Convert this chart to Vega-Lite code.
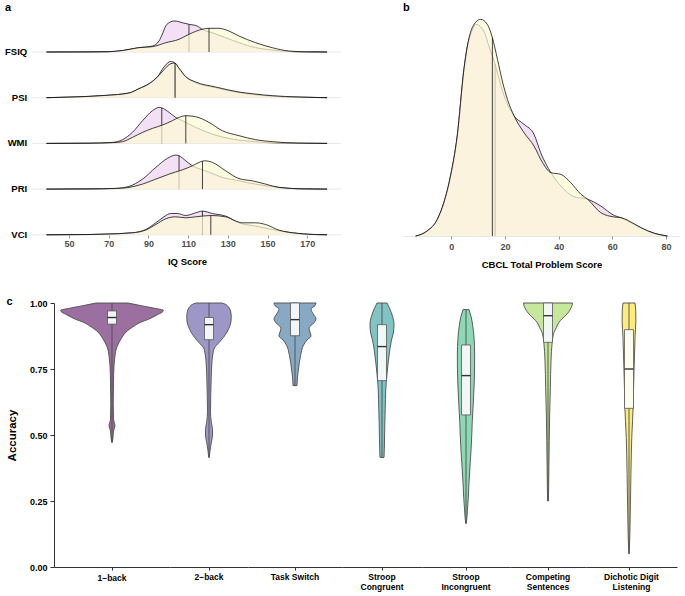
{
"$schema": "https://vega.github.io/schema/vega-lite/v6.json",
"padding": {"left": 4, "top": 2, "right": 0, "bottom": 0},
"config": {"font": "Liberation Sans", "view": {"stroke": null}},
"spacing": 27,
"vconcat": [
{
"spacing": 61,
"hconcat": [
{
"title": {"text": "a", "anchor": "start", "fontSize": 11, "fontWeight": "bold", "offset": 1, "color": "#000"},
"data": {"values": [
{"i":"FSIQ","g":"p","k":"c","v":38.6,"d":0},{"i":"FSIQ","g":"p","k":"c","v":60,"d":0.1},{"i":"FSIQ","g":"p","k":"c","v":70,"d":0.3},{"i":"FSIQ","g":"p","k":"c","v":77,"d":1.5},{"i":"FSIQ","g":"p","k":"c","v":85,"d":4.3},{"i":"FSIQ","g":"p","k":"c","v":92,"d":6},{"i":"FSIQ","g":"p","k":"c","v":95.3,"d":11},{"i":"FSIQ","g":"p","k":"c","v":97,"d":18},{"i":"FSIQ","g":"p","k":"c","v":98.7,"d":26},{"i":"FSIQ","g":"p","k":"c","v":101,"d":30},{"i":"FSIQ","g":"p","k":"c","v":102.9,"d":31},{"i":"FSIQ","g":"p","k":"c","v":105,"d":30.5},{"i":"FSIQ","g":"p","k":"c","v":107,"d":29.3},{"i":"FSIQ","g":"p","k":"c","v":110.4,"d":27.7},{"i":"FSIQ","g":"p","k":"c","v":114.6,"d":26},{"i":"FSIQ","g":"p","k":"c","v":117,"d":22.7},{"i":"FSIQ","g":"p","k":"c","v":122,"d":19.3},{"i":"FSIQ","g":"p","k":"c","v":128.9,"d":14.3},{"i":"FSIQ","g":"p","k":"c","v":135.6,"d":9.3},{"i":"FSIQ","g":"p","k":"c","v":144,"d":4.3},{"i":"FSIQ","g":"p","k":"c","v":152.4,"d":2},{"i":"FSIQ","g":"p","k":"c","v":160.8,"d":0.5},{"i":"FSIQ","g":"p","k":"c","v":170,"d":0.1},{"i":"FSIQ","g":"p","k":"c","v":180,"d":0},
{"i":"FSIQ","g":"y","k":"c","v":38.6,"d":0},{"i":"FSIQ","g":"y","k":"c","v":60,"d":0.1},{"i":"FSIQ","g":"y","k":"c","v":70,"d":0.3},{"i":"FSIQ","g":"y","k":"c","v":77,"d":1.5},{"i":"FSIQ","g":"y","k":"c","v":85,"d":4.3},{"i":"FSIQ","g":"y","k":"c","v":92,"d":5.3},{"i":"FSIQ","g":"y","k":"c","v":98.7,"d":9.3},{"i":"FSIQ","g":"y","k":"c","v":105.4,"d":12.7},{"i":"FSIQ","g":"y","k":"c","v":110.4,"d":17.7},{"i":"FSIQ","g":"y","k":"c","v":117,"d":22.7},{"i":"FSIQ","g":"y","k":"c","v":120.5,"d":23.7},{"i":"FSIQ","g":"y","k":"c","v":125.5,"d":23.7},{"i":"FSIQ","g":"y","k":"c","v":130.5,"d":21},{"i":"FSIQ","g":"y","k":"c","v":135.6,"d":16},{"i":"FSIQ","g":"y","k":"c","v":144,"d":9.3},{"i":"FSIQ","g":"y","k":"c","v":152.4,"d":4.3},{"i":"FSIQ","g":"y","k":"c","v":160.8,"d":1},{"i":"FSIQ","g":"y","k":"c","v":169.2,"d":0.2},{"i":"FSIQ","g":"y","k":"c","v":180,"d":0},
{"i":"FSIQ","g":"p","k":"m","v":110.4,"d":27.7},{"i":"FSIQ","g":"y","k":"m","v":120.5,"d":23.7},
{"i":"PSI","g":"p","k":"c","v":38.6,"d":0},{"i":"PSI","g":"p","k":"c","v":51.5,"d":0.7},{"i":"PSI","g":"p","k":"c","v":68.5,"d":2.3},{"i":"PSI","g":"p","k":"c","v":80.2,"d":4.7},{"i":"PSI","g":"p","k":"c","v":85.2,"d":9},{"i":"PSI","g":"p","k":"c","v":90.3,"d":14},{"i":"PSI","g":"p","k":"c","v":94.5,"d":20.7},{"i":"PSI","g":"p","k":"c","v":97.8,"d":30.7},{"i":"PSI","g":"p","k":"c","v":101.2,"d":36.3},{"i":"PSI","g":"p","k":"c","v":103.3,"d":34.5},{"i":"PSI","g":"p","k":"c","v":105.4,"d":29},{"i":"PSI","g":"p","k":"c","v":108.8,"d":20.7},{"i":"PSI","g":"p","k":"c","v":113.8,"d":15},{"i":"PSI","g":"p","k":"c","v":123.9,"d":10},{"i":"PSI","g":"p","k":"c","v":135.6,"d":5},{"i":"PSI","g":"p","k":"c","v":142.3,"d":3.3},{"i":"PSI","g":"p","k":"c","v":152.4,"d":1.5},{"i":"PSI","g":"p","k":"c","v":165.8,"d":0.5},{"i":"PSI","g":"p","k":"c","v":180,"d":0},
{"i":"PSI","g":"y","k":"c","v":38.6,"d":0},{"i":"PSI","g":"y","k":"c","v":51.5,"d":0.7},{"i":"PSI","g":"y","k":"c","v":68.5,"d":2.3},{"i":"PSI","g":"y","k":"c","v":80.2,"d":4.7},{"i":"PSI","g":"y","k":"c","v":85.2,"d":9},{"i":"PSI","g":"y","k":"c","v":90.3,"d":14},{"i":"PSI","g":"y","k":"c","v":94.5,"d":20.7},{"i":"PSI","g":"y","k":"c","v":97.8,"d":28},{"i":"PSI","g":"y","k":"c","v":101.2,"d":34},{"i":"PSI","g":"y","k":"c","v":103.3,"d":34.7},{"i":"PSI","g":"y","k":"c","v":105.4,"d":29.5},{"i":"PSI","g":"y","k":"c","v":108.8,"d":21},{"i":"PSI","g":"y","k":"c","v":113.8,"d":15.7},{"i":"PSI","g":"y","k":"c","v":123.9,"d":10.7},{"i":"PSI","g":"y","k":"c","v":135.6,"d":5.7},{"i":"PSI","g":"y","k":"c","v":142.3,"d":4},{"i":"PSI","g":"y","k":"c","v":152.4,"d":2},{"i":"PSI","g":"y","k":"c","v":165.8,"d":0.7},{"i":"PSI","g":"y","k":"c","v":180,"d":0},
{"i":"PSI","g":"p","k":"m","v":103.4,"d":34.4},{"i":"PSI","g":"y","k":"m","v":103.4,"d":34.7},
{"i":"WMI","g":"p","k":"c","v":38.6,"d":0},{"i":"WMI","g":"p","k":"c","v":60,"d":0.2},{"i":"WMI","g":"p","k":"c","v":71.8,"d":1},{"i":"WMI","g":"p","k":"c","v":76.9,"d":3.7},{"i":"WMI","g":"p","k":"c","v":81.9,"d":11},{"i":"WMI","g":"p","k":"c","v":87,"d":22.7},{"i":"WMI","g":"p","k":"c","v":92,"d":32.7},{"i":"WMI","g":"p","k":"c","v":95.4,"d":36},{"i":"WMI","g":"p","k":"c","v":96.7,"d":35.5},{"i":"WMI","g":"p","k":"c","v":100.4,"d":31},{"i":"WMI","g":"p","k":"c","v":103.7,"d":26},{"i":"WMI","g":"p","k":"c","v":107.1,"d":22.7},{"i":"WMI","g":"p","k":"c","v":113.8,"d":16},{"i":"WMI","g":"p","k":"c","v":122.2,"d":9.3},{"i":"WMI","g":"p","k":"c","v":132.2,"d":4.3},{"i":"WMI","g":"p","k":"c","v":144,"d":1.7},{"i":"WMI","g":"p","k":"c","v":155.7,"d":0.3},{"i":"WMI","g":"p","k":"c","v":180,"d":0},
{"i":"WMI","g":"y","k":"c","v":38.6,"d":0},{"i":"WMI","g":"y","k":"c","v":60,"d":0.2},{"i":"WMI","g":"y","k":"c","v":71.8,"d":0.7},{"i":"WMI","g":"y","k":"c","v":76.9,"d":1.7},{"i":"WMI","g":"y","k":"c","v":81.9,"d":6},{"i":"WMI","g":"y","k":"c","v":87,"d":11},{"i":"WMI","g":"y","k":"c","v":92,"d":15},{"i":"WMI","g":"y","k":"c","v":97,"d":18.3},{"i":"WMI","g":"y","k":"c","v":102,"d":22.7},{"i":"WMI","g":"y","k":"c","v":105.4,"d":26},{"i":"WMI","g":"y","k":"c","v":108.8,"d":27.7},{"i":"WMI","g":"y","k":"c","v":113.8,"d":26.7},{"i":"WMI","g":"y","k":"c","v":120.5,"d":21},{"i":"WMI","g":"y","k":"c","v":127.2,"d":12.7},{"i":"WMI","g":"y","k":"c","v":135.6,"d":7.7},{"i":"WMI","g":"y","k":"c","v":144,"d":3.7},{"i":"WMI","g":"y","k":"c","v":152.4,"d":1.7},{"i":"WMI","g":"y","k":"c","v":165.8,"d":0.3},{"i":"WMI","g":"y","k":"c","v":180,"d":0},
{"i":"WMI","g":"p","k":"m","v":96.7,"d":35.5},{"i":"WMI","g":"y","k":"m","v":108.8,"d":27.7},
{"i":"PRI","g":"p","k":"c","v":38.6,"d":0},{"i":"PRI","g":"p","k":"c","v":60,"d":0.2},{"i":"PRI","g":"p","k":"c","v":73.5,"d":0.7},{"i":"PRI","g":"p","k":"c","v":80.2,"d":2.7},{"i":"PRI","g":"p","k":"c","v":87,"d":10},{"i":"PRI","g":"p","k":"c","v":93.7,"d":21.7},{"i":"PRI","g":"p","k":"c","v":99.5,"d":30.7},{"i":"PRI","g":"p","k":"c","v":103.7,"d":34},{"i":"PRI","g":"p","k":"c","v":105.4,"d":33.3},{"i":"PRI","g":"p","k":"c","v":108.8,"d":28.3},{"i":"PRI","g":"p","k":"c","v":112.1,"d":23.3},{"i":"PRI","g":"p","k":"c","v":118.8,"d":18.3},{"i":"PRI","g":"p","k":"c","v":127.2,"d":11.7},{"i":"PRI","g":"p","k":"c","v":135.6,"d":8.3},{"i":"PRI","g":"p","k":"c","v":144,"d":5},{"i":"PRI","g":"p","k":"c","v":155.7,"d":1.7},{"i":"PRI","g":"p","k":"c","v":165,"d":0.4},{"i":"PRI","g":"p","k":"c","v":180,"d":0},
{"i":"PRI","g":"y","k":"c","v":38.6,"d":0},{"i":"PRI","g":"y","k":"c","v":60,"d":0.2},{"i":"PRI","g":"y","k":"c","v":73.5,"d":0.6},{"i":"PRI","g":"y","k":"c","v":80.2,"d":1.7},{"i":"PRI","g":"y","k":"c","v":87,"d":5},{"i":"PRI","g":"y","k":"c","v":93.7,"d":10},{"i":"PRI","g":"y","k":"c","v":100.4,"d":15},{"i":"PRI","g":"y","k":"c","v":107.1,"d":19.3},{"i":"PRI","g":"y","k":"c","v":112.1,"d":23.3},{"i":"PRI","g":"y","k":"c","v":115.5,"d":26.7},{"i":"PRI","g":"y","k":"c","v":118.3,"d":28.3},{"i":"PRI","g":"y","k":"c","v":122.2,"d":26.7},{"i":"PRI","g":"y","k":"c","v":128.9,"d":18.3},{"i":"PRI","g":"y","k":"c","v":135.6,"d":10.5},{"i":"PRI","g":"y","k":"c","v":142.3,"d":8.3},{"i":"PRI","g":"y","k":"c","v":149,"d":5},{"i":"PRI","g":"y","k":"c","v":155.7,"d":1.7},{"i":"PRI","g":"y","k":"c","v":165.8,"d":0.3},{"i":"PRI","g":"y","k":"c","v":180,"d":0},
{"i":"PRI","g":"p","k":"m","v":105.4,"d":33.3},{"i":"PRI","g":"y","k":"m","v":117.2,"d":28.1},
{"i":"VCI","g":"p","k":"c","v":38.6,"d":0},{"i":"VCI","g":"p","k":"c","v":60,"d":0.3},{"i":"VCI","g":"p","k":"c","v":68.5,"d":0.7},{"i":"VCI","g":"p","k":"c","v":81.9,"d":2},{"i":"VCI","g":"p","k":"c","v":88.6,"d":5.3},{"i":"VCI","g":"p","k":"c","v":93.7,"d":12},{"i":"VCI","g":"p","k":"c","v":97.8,"d":18},{"i":"VCI","g":"p","k":"c","v":101.2,"d":21.3},{"i":"VCI","g":"p","k":"c","v":104.6,"d":21.3},{"i":"VCI","g":"p","k":"c","v":108.8,"d":19.3},{"i":"VCI","g":"p","k":"c","v":113.8,"d":22},{"i":"VCI","g":"p","k":"c","v":117.2,"d":23.7},{"i":"VCI","g":"p","k":"c","v":122.2,"d":21.3},{"i":"VCI","g":"p","k":"c","v":128.9,"d":18.7},{"i":"VCI","g":"p","k":"c","v":135.6,"d":12},{"i":"VCI","g":"p","k":"c","v":144,"d":8.7},{"i":"VCI","g":"p","k":"c","v":152.4,"d":5.3},{"i":"VCI","g":"p","k":"c","v":162.5,"d":2},{"i":"VCI","g":"p","k":"c","v":172.5,"d":0.3},{"i":"VCI","g":"p","k":"c","v":180,"d":0},
{"i":"VCI","g":"y","k":"c","v":38.6,"d":0},{"i":"VCI","g":"y","k":"c","v":60,"d":0.3},{"i":"VCI","g":"y","k":"c","v":68.5,"d":0.7},{"i":"VCI","g":"y","k":"c","v":81.9,"d":2},{"i":"VCI","g":"y","k":"c","v":88.6,"d":4.7},{"i":"VCI","g":"y","k":"c","v":93.7,"d":10.3},{"i":"VCI","g":"y","k":"c","v":98.7,"d":16},{"i":"VCI","g":"y","k":"c","v":103.7,"d":18},{"i":"VCI","g":"y","k":"c","v":108.8,"d":17},{"i":"VCI","g":"y","k":"c","v":113.8,"d":18},{"i":"VCI","g":"y","k":"c","v":121.4,"d":19.3},{"i":"VCI","g":"y","k":"c","v":128.9,"d":18},{"i":"VCI","g":"y","k":"c","v":134,"d":13.7},{"i":"VCI","g":"y","k":"c","v":137.3,"d":12},{"i":"VCI","g":"y","k":"c","v":144,"d":12},{"i":"VCI","g":"y","k":"c","v":149,"d":10.3},{"i":"VCI","g":"y","k":"c","v":155.7,"d":4.7},{"i":"VCI","g":"y","k":"c","v":165.8,"d":1.3},{"i":"VCI","g":"y","k":"c","v":174.2,"d":0.3},{"i":"VCI","g":"y","k":"c","v":180,"d":0},
{"i":"VCI","g":"p","k":"m","v":117.2,"d":23.7},{"i":"VCI","g":"y","k":"m","v":121.4,"d":19.3}
]},
"facet": {"row": {"field": "i", "type": "nominal", "sort": ["FSIQ","PSI","WMI","PRI","VCI"], "title": null, "header": {"labels": false, "title": null}}},
"spacing": {"row": 7.7},
"bounds": "flush",
"spec": {
  "width": 287, "height": 38,
  "encoding": {
    "y": {"field": "d", "type": "quantitative", "stack": null, "title": null, "scale": {"domain": [0, 38], "nice": false}, "axis": null}
  },
  "layer": [
    {"transform": [{"filter": "datum.k == 'm' && datum.g == 'p'"}], "mark": {"type": "rule", "color": "#e6e6e6", "strokeWidth": 1},
     "encoding": {"x": {"datum": 31.4, "type": "quantitative", "title": "IQ Score"}, "x2": {"datum": 187}, "y": {"datum": 0, "type": "quantitative", "axis": null}}},
    {"transform": [{"filter": "datum.k == 'm' && datum.g == 'p'"}], "mark": {"type": "text", "align": "right", "baseline": "middle", "dx": -5, "fontWeight": "bold", "fontSize": 9.5, "color": "#000"},
     "encoding": {"text": {"field": "i"}, "x": {"datum": 31.4, "type": "quantitative", "title": "IQ Score"}, "y": {"datum": 0, "type": "quantitative", "axis": null}}},
    {"transform": [{"filter": "datum.k == 'c' && datum.g == 'p'"}], "mark": {"type": "area", "interpolate": "monotone", "fill": "#E7C1EB", "fillOpacity": 0.5},
     "encoding": {"x": {"field": "v", "type": "quantitative", "title": "IQ Score", "scale": {"domain": [42.4, 187], "nice": false, "zero": false},
      "axis": {"values": [50,70,90,110,130,150,170], "grid": false, "domain": false, "tickColor": "#999", "tickSize": 3, "labelColor": "#4d4d4d", "labelFontWeight": "bold", "labelFontSize": 9, "labelPadding": 1, "titleFontWeight": "bold", "titleFontSize": 9.5, "titlePadding": 8, "titleColor": "#000", "titleX": 133}}}},
    {"transform": [{"filter": "datum.k == 'c' && datum.g == 'p'"}], "mark": {"type": "line", "interpolate": "monotone", "color": "#111", "strokeWidth": 0.8}, "encoding": {"x": {"field": "v", "type": "quantitative", "title": "IQ Score"}}},
    {"transform": [{"filter": "datum.k == 'm' && datum.g == 'p'"}], "mark": {"type": "rule", "color": "#111", "strokeWidth": 0.8}, "encoding": {"x": {"field": "v", "type": "quantitative", "title": "IQ Score"}, "y2": {"datum": 0}}},
    {"transform": [{"filter": "datum.k == 'c' && datum.g == 'y'"}], "mark": {"type": "area", "interpolate": "monotone", "fill": "#FEFBD3", "fillOpacity": 0.7}, "encoding": {"x": {"field": "v", "type": "quantitative", "title": "IQ Score"}}},
    {"transform": [{"filter": "datum.k == 'c' && datum.g == 'y'"}], "mark": {"type": "line", "interpolate": "monotone", "color": "#111", "strokeWidth": 0.8}, "encoding": {"x": {"field": "v", "type": "quantitative", "title": "IQ Score"}}},
    {"transform": [{"filter": "datum.k == 'm' && datum.g == 'y'"}], "mark": {"type": "rule", "color": "#111", "strokeWidth": 0.8}, "encoding": {"x": {"field": "v", "type": "quantitative", "title": "IQ Score"}, "y2": {"datum": 0}}}
  ]
}
},
{
"title": {"text": "b", "anchor": "start", "fontSize": 11, "fontWeight": "bold", "offset": 1, "color": "#000"},
"width": 277, "height": 222,
"data": {"values": [
{"g":"p","k":"c","v":-13.3,"d":0},{"g":"p","k":"c","v":-9,"d":5},{"g":"p","k":"c","v":-5.2,"d":16.7},{"g":"p","k":"c","v":-2.8,"d":33.3},{"g":"p","k":"c","v":-0.3,"d":60},{"g":"p","k":"c","v":2.2,"d":100},{"g":"p","k":"c","v":4.7,"d":166.7},{"g":"p","k":"c","v":6,"d":190},{"g":"p","k":"c","v":7.8,"d":206},{"g":"p","k":"c","v":9.1,"d":211.7},{"g":"p","k":"c","v":12.1,"d":205},{"g":"p","k":"c","v":14,"d":190},{"g":"p","k":"c","v":16.3,"d":172},{"g":"p","k":"c","v":17.2,"d":163},{"g":"p","k":"c","v":19.7,"d":140},{"g":"p","k":"c","v":23.4,"d":120},{"g":"p","k":"c","v":27.1,"d":111.7},{"g":"p","k":"c","v":30.8,"d":101.7},{"g":"p","k":"c","v":33.3,"d":83.3},{"g":"p","k":"c","v":37.1,"d":63.3},{"g":"p","k":"c","v":40.8,"d":50},{"g":"p","k":"c","v":45.7,"d":39.3},{"g":"p","k":"c","v":50.8,"d":36.7},{"g":"p","k":"c","v":55.7,"d":30},{"g":"p","k":"c","v":60.7,"d":20.5},{"g":"p","k":"c","v":63.2,"d":18.3},{"g":"p","k":"c","v":65.7,"d":15},{"g":"p","k":"c","v":70.7,"d":8},{"g":"p","k":"c","v":75.6,"d":2.7},{"g":"p","k":"c","v":80.5,"d":0},
{"g":"y","k":"c","v":-13.3,"d":0},{"g":"y","k":"c","v":-9,"d":5},{"g":"y","k":"c","v":-5.2,"d":16.7},{"g":"y","k":"c","v":-2.8,"d":33.3},{"g":"y","k":"c","v":-0.3,"d":60},{"g":"y","k":"c","v":2.2,"d":100},{"g":"y","k":"c","v":4.7,"d":166.7},{"g":"y","k":"c","v":6,"d":190},{"g":"y","k":"c","v":7.8,"d":208.3},{"g":"y","k":"c","v":10.9,"d":216.7},{"g":"y","k":"c","v":13.4,"d":211.7},{"g":"y","k":"c","v":15.3,"d":198.3},{"g":"y","k":"c","v":17.2,"d":176.7},{"g":"y","k":"c","v":19,"d":155},{"g":"y","k":"c","v":20.9,"d":136.7},{"g":"y","k":"c","v":23.4,"d":120},{"g":"y","k":"c","v":27.1,"d":103.3},{"g":"y","k":"c","v":30.8,"d":90},{"g":"y","k":"c","v":34,"d":73.3},{"g":"y","k":"c","v":37.1,"d":63.3},{"g":"y","k":"c","v":40.8,"d":61.7},{"g":"y","k":"c","v":44.5,"d":53.3},{"g":"y","k":"c","v":48.3,"d":41.7},{"g":"y","k":"c","v":50.8,"d":36.7},{"g":"y","k":"c","v":55.7,"d":23.3},{"g":"y","k":"c","v":60.7,"d":19},{"g":"y","k":"c","v":63.2,"d":18.3},{"g":"y","k":"c","v":65.7,"d":15.7},{"g":"y","k":"c","v":70.7,"d":8.3},{"g":"y","k":"c","v":75.6,"d":2.7},{"g":"y","k":"c","v":80.5,"d":0},
{"g":"p","k":"m","v":16.3,"d":172},{"g":"y","k":"m","v":15.3,"d":198.3}
]},
"encoding": {
  "x": {"field": "v", "type": "quantitative", "title": "CBCL Total Problem Score", "scale": {"domain": [-18, 85.2], "nice": false, "zero": false},
    "axis": {"values": [0,20,40,60,80], "grid": false, "domain": false, "tickColor": "#999", "tickSize": 3, "labelColor": "#4d4d4d", "labelFontWeight": "bold", "labelFontSize": 9, "labelPadding": 3, "titleFontWeight": "bold", "titleFontSize": 9.5, "titlePadding": 8, "titleColor": "#000"}},
  "y": {"field": "d", "type": "quantitative", "stack": null, "title": null, "scale": {"domain": [0, 222], "nice": false},
    "axis": {"values": [0], "grid": true, "gridColor": "#e6e6e6", "labels": false, "ticks": false, "domain": false, "title": null, "minExtent": 0}}
},
"layer": [
  {"transform": [{"filter": "datum.k == 'c' && datum.g == 'p'"}], "mark": {"type": "area", "interpolate": "monotone", "fill": "#E7C1EB", "fillOpacity": 0.5}},
  {"transform": [{"filter": "datum.k == 'c' && datum.g == 'p'"}], "mark": {"type": "line", "interpolate": "monotone", "color": "#111", "strokeWidth": 0.8}},
  {"transform": [{"filter": "datum.k == 'm' && datum.g == 'p'"}], "mark": {"type": "rule", "color": "#111", "strokeWidth": 0.8}, "encoding": {"y2": {"datum": 0}}},
  {"transform": [{"filter": "datum.k == 'c' && datum.g == 'y'"}], "mark": {"type": "area", "interpolate": "monotone", "fill": "#FEFBD3", "fillOpacity": 0.7}},
  {"transform": [{"filter": "datum.k == 'c' && datum.g == 'y'"}], "mark": {"type": "line", "interpolate": "monotone", "color": "#111", "strokeWidth": 0.8}},
  {"transform": [{"filter": "datum.k == 'm' && datum.g == 'y'"}], "mark": {"type": "rule", "color": "#111", "strokeWidth": 0.8}, "encoding": {"y2": {"datum": 0}}}
]
}
]
},
{
"title": {"text": "c", "anchor": "start", "fontSize": 11, "fontWeight": "bold", "offset": -8, "color": "#000"},
"spacing": 0,
"data": {"values": [
{"t":"1−back","k":"v","acc":1.0,"w":32},{"t":"1−back","k":"v","acc":0.99,"w":58},{"t":"1−back","k":"v","acc":0.98,"w":85},{"t":"1−back","k":"v","acc":0.972,"w":103},{"t":"1−back","k":"v","acc":0.965,"w":100},{"t":"1−back","k":"v","acc":0.955,"w":90},{"t":"1−back","k":"v","acc":0.94,"w":75},{"t":"1−back","k":"v","acc":0.925,"w":55},{"t":"1−back","k":"v","acc":0.91,"w":42},{"t":"1−back","k":"v","acc":0.89,"w":28},{"t":"1−back","k":"v","acc":0.87,"w":20},{"t":"1−back","k":"v","acc":0.85,"w":14},{"t":"1−back","k":"v","acc":0.83,"w":9},{"t":"1−back","k":"v","acc":0.8,"w":6},{"t":"1−back","k":"v","acc":0.76,"w":4},{"t":"1−back","k":"v","acc":0.7,"w":3},{"t":"1−back","k":"v","acc":0.62,"w":2.5},{"t":"1−back","k":"v","acc":0.56,"w":3},{"t":"1−back","k":"v","acc":0.535,"w":6},{"t":"1−back","k":"v","acc":0.515,"w":3},{"t":"1−back","k":"v","acc":0.49,"w":2},{"t":"1−back","k":"v","acc":0.472,"w":0.5},
{"t":"2−back","k":"v","acc":1.0,"w":26},{"t":"2−back","k":"v","acc":0.995,"w":33},{"t":"2−back","k":"v","acc":0.985,"w":39},{"t":"2−back","k":"v","acc":0.97,"w":43},{"t":"2−back","k":"v","acc":0.95,"w":44.5},{"t":"2−back","k":"v","acc":0.93,"w":44},{"t":"2−back","k":"v","acc":0.91,"w":41},{"t":"2−back","k":"v","acc":0.89,"w":36},{"t":"2−back","k":"v","acc":0.87,"w":29},{"t":"2−back","k":"v","acc":0.85,"w":20},{"t":"2−back","k":"v","acc":0.83,"w":11},{"t":"2−back","k":"v","acc":0.81,"w":8},{"t":"2−back","k":"v","acc":0.78,"w":6},{"t":"2−back","k":"v","acc":0.72,"w":4.5},{"t":"2−back","k":"v","acc":0.65,"w":3.5},{"t":"2−back","k":"v","acc":0.59,"w":3},{"t":"2−back","k":"v","acc":0.55,"w":4.5},{"t":"2−back","k":"v","acc":0.52,"w":7},{"t":"2−back","k":"v","acc":0.5,"w":7},{"t":"2−back","k":"v","acc":0.47,"w":4.5},{"t":"2−back","k":"v","acc":0.44,"w":2},{"t":"2−back","k":"v","acc":0.415,"w":0.5},
{"t":"Task Switch","k":"v","acc":1.0,"w":42},{"t":"Task Switch","k":"v","acc":0.99,"w":40},{"t":"Task Switch","k":"v","acc":0.977,"w":32},{"t":"Task Switch","k":"v","acc":0.96,"w":36},{"t":"Task Switch","k":"v","acc":0.94,"w":42},{"t":"Task Switch","k":"v","acc":0.925,"w":38},{"t":"Task Switch","k":"v","acc":0.905,"w":28},{"t":"Task Switch","k":"v","acc":0.89,"w":30},{"t":"Task Switch","k":"v","acc":0.875,"w":32},{"t":"Task Switch","k":"v","acc":0.86,"w":24},{"t":"Task Switch","k":"v","acc":0.84,"w":17},{"t":"Task Switch","k":"v","acc":0.8,"w":11},{"t":"Task Switch","k":"v","acc":0.75,"w":7},{"t":"Task Switch","k":"v","acc":0.72,"w":5},{"t":"Task Switch","k":"v","acc":0.687,"w":4},
{"t":"Stroop Congruent","k":"v","acc":1.0,"w":10},{"t":"Stroop Congruent","k":"v","acc":0.98,"w":15},{"t":"Stroop Congruent","k":"v","acc":0.95,"w":21},{"t":"Stroop Congruent","k":"v","acc":0.92,"w":24},{"t":"Stroop Congruent","k":"v","acc":0.89,"w":23},{"t":"Stroop Congruent","k":"v","acc":0.86,"w":19},{"t":"Stroop Congruent","k":"v","acc":0.8,"w":14},{"t":"Stroop Congruent","k":"v","acc":0.73,"w":10},{"t":"Stroop Congruent","k":"v","acc":0.67,"w":7.5},{"t":"Stroop Congruent","k":"v","acc":0.6,"w":6.5},{"t":"Stroop Congruent","k":"v","acc":0.55,"w":5.7},{"t":"Stroop Congruent","k":"v","acc":0.45,"w":4.7},{"t":"Stroop Congruent","k":"v","acc":0.415,"w":4},
{"t":"Stroop Incongruent","k":"v","acc":0.975,"w":6},{"t":"Stroop Incongruent","k":"v","acc":0.95,"w":10},{"t":"Stroop Incongruent","k":"v","acc":0.92,"w":13},{"t":"Stroop Incongruent","k":"v","acc":0.87,"w":16},{"t":"Stroop Incongruent","k":"v","acc":0.8,"w":17.3},{"t":"Stroop Incongruent","k":"v","acc":0.7,"w":16.5},{"t":"Stroop Incongruent","k":"v","acc":0.62,"w":14.5},{"t":"Stroop Incongruent","k":"v","acc":0.55,"w":12.5},{"t":"Stroop Incongruent","k":"v","acc":0.5,"w":11.5},{"t":"Stroop Incongruent","k":"v","acc":0.44,"w":10},{"t":"Stroop Incongruent","k":"v","acc":0.38,"w":8},{"t":"Stroop Incongruent","k":"v","acc":0.32,"w":6},{"t":"Stroop Incongruent","k":"v","acc":0.26,"w":4.5},{"t":"Stroop Incongruent","k":"v","acc":0.22,"w":3},{"t":"Stroop Incongruent","k":"v","acc":0.19,"w":2},{"t":"Stroop Incongruent","k":"v","acc":0.165,"w":0.5},
{"t":"Competing Sentences","k":"v","acc":1.0,"w":49},{"t":"Competing Sentences","k":"v","acc":0.99,"w":48},{"t":"Competing Sentences","k":"v","acc":0.977,"w":45},{"t":"Competing Sentences","k":"v","acc":0.958,"w":38},{"t":"Competing Sentences","k":"v","acc":0.94,"w":28},{"t":"Competing Sentences","k":"v","acc":0.927,"w":22},{"t":"Competing Sentences","k":"v","acc":0.9,"w":15},{"t":"Competing Sentences","k":"v","acc":0.889,"w":12},{"t":"Competing Sentences","k":"v","acc":0.85,"w":8.3},{"t":"Competing Sentences","k":"v","acc":0.78,"w":6},{"t":"Competing Sentences","k":"v","acc":0.68,"w":4.7},{"t":"Competing Sentences","k":"v","acc":0.58,"w":3.3},{"t":"Competing Sentences","k":"v","acc":0.48,"w":2.5},{"t":"Competing Sentences","k":"v","acc":0.38,"w":1.8},{"t":"Competing Sentences","k":"v","acc":0.3,"w":1.3},{"t":"Competing Sentences","k":"v","acc":0.25,"w":0.8},
{"t":"Dichotic Digit Listening","k":"v","acc":1.0,"w":12},{"t":"Dichotic Digit Listening","k":"v","acc":0.97,"w":13.5},{"t":"Dichotic Digit Listening","k":"v","acc":0.93,"w":13.7},{"t":"Dichotic Digit Listening","k":"v","acc":0.87,"w":12},{"t":"Dichotic Digit Listening","k":"v","acc":0.8,"w":11},{"t":"Dichotic Digit Listening","k":"v","acc":0.74,"w":10},{"t":"Dichotic Digit Listening","k":"v","acc":0.67,"w":9},{"t":"Dichotic Digit Listening","k":"v","acc":0.61,"w":8.3},{"t":"Dichotic Digit Listening","k":"v","acc":0.55,"w":7},{"t":"Dichotic Digit Listening","k":"v","acc":0.49,"w":5.5},{"t":"Dichotic Digit Listening","k":"v","acc":0.42,"w":4.5},{"t":"Dichotic Digit Listening","k":"v","acc":0.35,"w":3.8},{"t":"Dichotic Digit Listening","k":"v","acc":0.28,"w":3.2},{"t":"Dichotic Digit Listening","k":"v","acc":0.2,"w":2.5},{"t":"Dichotic Digit Listening","k":"v","acc":0.13,"w":1.8},{"t":"Dichotic Digit Listening","k":"v","acc":0.08,"w":1},{"t":"Dichotic Digit Listening","k":"v","acc":0.05,"w":0.3},
{"t":"1−back","k":"b","lo":0.472,"q1":0.92,"med":0.945,"q3":0.97,"hi":1.0},
{"t":"2−back","k":"b","lo":0.415,"q1":0.861,"med":0.918,"q3":0.945,"hi":1.0},
{"t":"Task Switch","k":"b","lo":0.687,"q1":0.876,"med":0.937,"q3":1.0,"hi":1.0},
{"t":"Stroop Congruent","k":"b","lo":0.415,"q1":0.706,"med":0.835,"q3":0.918,"hi":1.0},
{"t":"Stroop Incongruent","k":"b","lo":0.165,"q1":0.576,"med":0.725,"q3":0.841,"hi":0.975},
{"t":"Competing Sentences","k":"b","lo":0.25,"q1":0.851,"med":0.952,"q3":1.0,"hi":1.0},
{"t":"Dichotic Digit Listening","k":"b","lo":0.05,"q1":0.601,"med":0.75,"q3":0.899,"hi":1.0}
]},
"hconcat": [
{"width": 116, "height": 264,
 "transform": [{"filter": "datum.t == '1−back'"}],
 "title": {"text": "1−back", "orient": "bottom", "fontSize": 8.5, "fontWeight": "bold", "offset": 2, "lineHeight": 10.5, "color": "#000"},
 "layer": [
  {"transform": [{"filter": "datum.k == 'v'"}],
   "mark": {"type": "area", "orient": "horizontal", "interpolate": "monotone", "stroke": "#4d4d4d", "strokeWidth": 0.9, "fill": "#9B6FA0"},
   "encoding": {
     "y": {"field": "acc", "type": "quantitative", "title": "Accuracy", "scale": {"domain": [0, 1], "nice": false},
       "axis": {"values": [0, 0.25, 0.5, 0.75, 1], "format": ".2f", "grid": false, "domainColor": "#333", "tickColor": "#333", "tickSize": 4, "labelPadding": 3, "labelFontWeight": "bold", "labelFontSize": 9, "labelColor": "#000", "titleFontWeight": "bold", "titleFontSize": 11.5, "titleColor": "#000", "titlePadding": 12}},
     "x": {"field": "w", "type": "quantitative", "stack": "center", "impute": null, "title": null, "scale": {"domain": [-6.5, 109.5], "nice": false, "zero": false},
       "axis": {"values": [51.5], "labels": false, "grid": false, "domainColor": "#333", "tickColor": "#333", "tickSize": 3, "title": null}}}},
  {"transform": [{"filter": "datum.k == 'b'"}], "mark": {"type": "rule", "color": "#4d4d4d", "strokeWidth": 0.9},
   "encoding": {"y": {"field": "lo", "type": "quantitative", "title": "Accuracy"}, "y2": {"field": "hi"}, "x": {"datum": 51.5, "type": "quantitative", "title": null}}},
  {"transform": [{"filter": "datum.k == 'b'"}], "mark": {"type": "rect", "fill": "#F3F6F6", "stroke": "#555", "strokeWidth": 0.8},
   "encoding": {"y": {"field": "q1", "type": "quantitative", "title": "Accuracy"}, "y2": {"field": "q3"}, "x": {"datum": 47, "type": "quantitative", "title": null}, "x2": {"datum": 56}}},
  {"transform": [{"filter": "datum.k == 'b'"}], "mark": {"type": "rule", "color": "#333", "strokeWidth": 1.4},
   "encoding": {"y": {"field": "med", "type": "quantitative", "title": "Accuracy"}, "x": {"datum": 47, "type": "quantitative", "title": null}, "x2": {"datum": 56}}}
 ]},
{"width": 78, "height": 264,
 "transform": [{"filter": "datum.t == '2−back'"}],
 "title": {"text": "2−back", "orient": "bottom", "fontSize": 8.5, "fontWeight": "bold", "offset": 2, "lineHeight": 10.5, "color": "#000"},
 "layer": [
  {"transform": [{"filter": "datum.k == 'v'"}],
   "mark": {"type": "area", "orient": "horizontal", "interpolate": "monotone", "stroke": "#4d4d4d", "strokeWidth": 0.9, "fill": "#9D97C8"},
   "encoding": {
     "y": {"field": "acc", "type": "quantitative", "title": null, "scale": {"domain": [0, 1], "nice": false}, "axis": null},
     "x": {"field": "w", "type": "quantitative", "stack": "center", "impute": null, "title": null, "scale": {"domain": [-16.75, 61.25], "nice": false, "zero": false},
       "axis": {"values": [22.25], "labels": false, "grid": false, "domainColor": "#333", "tickColor": "#333", "tickSize": 3, "title": null}}}},
  {"transform": [{"filter": "datum.k == 'b'"}], "mark": {"type": "rule", "color": "#4d4d4d", "strokeWidth": 0.9},
   "encoding": {"y": {"field": "lo", "type": "quantitative", "title": null}, "y2": {"field": "hi"}, "x": {"datum": 22.25, "type": "quantitative", "title": null}}},
  {"transform": [{"filter": "datum.k == 'b'"}], "mark": {"type": "rect", "fill": "#F3F6F6", "stroke": "#555", "strokeWidth": 0.8},
   "encoding": {"y": {"field": "q1", "type": "quantitative", "title": null}, "y2": {"field": "q3"}, "x": {"datum": 17.75, "type": "quantitative", "title": null}, "x2": {"datum": 26.75}}},
  {"transform": [{"filter": "datum.k == 'b'"}], "mark": {"type": "rule", "color": "#333", "strokeWidth": 1.4},
   "encoding": {"y": {"field": "med", "type": "quantitative", "title": null}, "x": {"datum": 17.75, "type": "quantitative", "title": null}, "x2": {"datum": 26.75}}}
 ]},
{"width": 94, "height": 264,
 "transform": [{"filter": "datum.t == 'Task Switch'"}],
 "title": {"text": "Task Switch", "orient": "bottom", "fontSize": 8.5, "fontWeight": "bold", "offset": 2, "lineHeight": 10.5, "color": "#000"},
 "layer": [
  {"transform": [{"filter": "datum.k == 'v'"}],
   "mark": {"type": "area", "orient": "horizontal", "interpolate": "monotone", "stroke": "#4d4d4d", "strokeWidth": 0.9, "fill": "#88A9C4"},
   "encoding": {
     "y": {"field": "acc", "type": "quantitative", "title": null, "scale": {"domain": [0, 1], "nice": false}, "axis": null},
     "x": {"field": "w", "type": "quantitative", "stack": "center", "impute": null, "title": null, "scale": {"domain": [-26, 68], "nice": false, "zero": false},
       "axis": {"values": [21], "labels": false, "grid": false, "domainColor": "#333", "tickColor": "#333", "tickSize": 3, "title": null}}}},
  {"transform": [{"filter": "datum.k == 'b'"}], "mark": {"type": "rule", "color": "#4d4d4d", "strokeWidth": 0.9},
   "encoding": {"y": {"field": "lo", "type": "quantitative", "title": null}, "y2": {"field": "hi"}, "x": {"datum": 21, "type": "quantitative", "title": null}}},
  {"transform": [{"filter": "datum.k == 'b'"}], "mark": {"type": "rect", "fill": "#F3F6F6", "stroke": "#555", "strokeWidth": 0.8},
   "encoding": {"y": {"field": "q1", "type": "quantitative", "title": null}, "y2": {"field": "q3"}, "x": {"datum": 16.5, "type": "quantitative", "title": null}, "x2": {"datum": 25.5}}},
  {"transform": [{"filter": "datum.k == 'b'"}], "mark": {"type": "rule", "color": "#333", "strokeWidth": 1.4},
   "encoding": {"y": {"field": "med", "type": "quantitative", "title": null}, "x": {"datum": 16.5, "type": "quantitative", "title": null}, "x2": {"datum": 25.5}}}
 ]},
{"width": 80, "height": 264,
 "transform": [{"filter": "datum.t == 'Stroop Congruent'"}],
 "title": {"text": ["Stroop", "Congruent"], "orient": "bottom", "fontSize": 8.5, "fontWeight": "bold", "offset": 2, "lineHeight": 10.5, "color": "#000"},
 "layer": [
  {"transform": [{"filter": "datum.k == 'v'"}],
   "mark": {"type": "area", "orient": "horizontal", "interpolate": "monotone", "stroke": "#4d4d4d", "strokeWidth": 0.9, "fill": "#80C4C4"},
   "encoding": {
     "y": {"field": "acc", "type": "quantitative", "title": null, "scale": {"domain": [0, 1], "nice": false}, "axis": null},
     "x": {"field": "w", "type": "quantitative", "stack": "center", "impute": null, "title": null, "scale": {"domain": [-28, 52], "nice": false, "zero": false},
       "axis": {"values": [12], "labels": false, "grid": false, "domainColor": "#333", "tickColor": "#333", "tickSize": 3, "title": null}}}},
  {"transform": [{"filter": "datum.k == 'b'"}], "mark": {"type": "rule", "color": "#4d4d4d", "strokeWidth": 0.9},
   "encoding": {"y": {"field": "lo", "type": "quantitative", "title": null}, "y2": {"field": "hi"}, "x": {"datum": 12, "type": "quantitative", "title": null}}},
  {"transform": [{"filter": "datum.k == 'b'"}], "mark": {"type": "rect", "fill": "#F3F6F6", "stroke": "#555", "strokeWidth": 0.8},
   "encoding": {"y": {"field": "q1", "type": "quantitative", "title": null}, "y2": {"field": "q3"}, "x": {"datum": 7.5, "type": "quantitative", "title": null}, "x2": {"datum": 16.5}}},
  {"transform": [{"filter": "datum.k == 'b'"}], "mark": {"type": "rule", "color": "#333", "strokeWidth": 1.4},
   "encoding": {"y": {"field": "med", "type": "quantitative", "title": null}, "x": {"datum": 7.5, "type": "quantitative", "title": null}, "x2": {"datum": 16.5}}}
 ]},
{"width": 88, "height": 264,
 "transform": [{"filter": "datum.t == 'Stroop Incongruent'"}],
 "title": {"text": ["Stroop", "Incongruent"], "orient": "bottom", "fontSize": 8.5, "fontWeight": "bold", "offset": 2, "lineHeight": 10.5, "color": "#000"},
 "layer": [
  {"transform": [{"filter": "datum.k == 'v'"}],
   "mark": {"type": "area", "orient": "horizontal", "interpolate": "monotone", "stroke": "#4d4d4d", "strokeWidth": 0.9, "fill": "#8ED9B5"},
   "encoding": {
     "y": {"field": "acc", "type": "quantitative", "title": null, "scale": {"domain": [0, 1], "nice": false}, "axis": null},
     "x": {"field": "w", "type": "quantitative", "stack": "center", "impute": null, "title": null, "scale": {"domain": [-35.35, 52.65], "nice": false, "zero": false},
       "axis": {"values": [8.65], "labels": false, "grid": false, "domainColor": "#333", "tickColor": "#333", "tickSize": 3, "title": null}}}},
  {"transform": [{"filter": "datum.k == 'b'"}], "mark": {"type": "rule", "color": "#4d4d4d", "strokeWidth": 0.9},
   "encoding": {"y": {"field": "lo", "type": "quantitative", "title": null}, "y2": {"field": "hi"}, "x": {"datum": 8.65, "type": "quantitative", "title": null}}},
  {"transform": [{"filter": "datum.k == 'b'"}], "mark": {"type": "rect", "fill": "#F3F6F6", "stroke": "#555", "strokeWidth": 0.8},
   "encoding": {"y": {"field": "q1", "type": "quantitative", "title": null}, "y2": {"field": "q3"}, "x": {"datum": 4.15, "type": "quantitative", "title": null}, "x2": {"datum": 13.15}}},
  {"transform": [{"filter": "datum.k == 'b'"}], "mark": {"type": "rule", "color": "#333", "strokeWidth": 1.4},
   "encoding": {"y": {"field": "med", "type": "quantitative", "title": null}, "x": {"datum": 4.15, "type": "quantitative", "title": null}, "x2": {"datum": 13.15}}}
 ]},
{"width": 76, "height": 264,
 "transform": [{"filter": "datum.t == 'Competing Sentences'"}],
 "title": {"text": ["Competing", "Sentences"], "orient": "bottom", "fontSize": 8.5, "fontWeight": "bold", "offset": 2, "lineHeight": 10.5, "color": "#000"},
 "layer": [
  {"transform": [{"filter": "datum.k == 'v'"}],
   "mark": {"type": "area", "orient": "horizontal", "interpolate": "monotone", "stroke": "#4d4d4d", "strokeWidth": 0.9, "fill": "#C5E89B"},
   "encoding": {
     "y": {"field": "acc", "type": "quantitative", "title": null, "scale": {"domain": [0, 1], "nice": false}, "axis": null},
     "x": {"field": "w", "type": "quantitative", "stack": "center", "impute": null, "title": null, "scale": {"domain": [-13.5, 62.5], "nice": false, "zero": false},
       "axis": {"values": [24.5], "labels": false, "grid": false, "domainColor": "#333", "tickColor": "#333", "tickSize": 3, "title": null}}}},
  {"transform": [{"filter": "datum.k == 'b'"}], "mark": {"type": "rule", "color": "#4d4d4d", "strokeWidth": 0.9},
   "encoding": {"y": {"field": "lo", "type": "quantitative", "title": null}, "y2": {"field": "hi"}, "x": {"datum": 24.5, "type": "quantitative", "title": null}}},
  {"transform": [{"filter": "datum.k == 'b'"}], "mark": {"type": "rect", "fill": "#F3F6F6", "stroke": "#555", "strokeWidth": 0.8},
   "encoding": {"y": {"field": "q1", "type": "quantitative", "title": null}, "y2": {"field": "q3"}, "x": {"datum": 20, "type": "quantitative", "title": null}, "x2": {"datum": 29}}},
  {"transform": [{"filter": "datum.k == 'b'"}], "mark": {"type": "rule", "color": "#333", "strokeWidth": 1.4},
   "encoding": {"y": {"field": "med", "type": "quantitative", "title": null}, "x": {"datum": 20, "type": "quantitative", "title": null}, "x2": {"datum": 29}}}
 ]},
{"width": 91, "height": 264,
 "transform": [{"filter": "datum.t == 'Dichotic Digit Listening'"}],
 "title": {"text": ["Dichotic Digit", "Listening"], "orient": "bottom", "fontSize": 8.5, "fontWeight": "bold", "offset": 2, "lineHeight": 10.5, "color": "#000"},
 "layer": [
  {"transform": [{"filter": "datum.k == 'v'"}],
   "mark": {"type": "area", "orient": "horizontal", "interpolate": "monotone", "stroke": "#4d4d4d", "strokeWidth": 0.9, "fill": "#FDEB7E"},
   "encoding": {
     "y": {"field": "acc", "type": "quantitative", "title": null, "scale": {"domain": [0, 1], "nice": false}, "axis": null},
     "x": {"field": "w", "type": "quantitative", "stack": "center", "impute": null, "title": null, "scale": {"domain": [-36.15, 54.85], "nice": false, "zero": false},
       "axis": {"values": [6.85], "labels": false, "grid": false, "domainColor": "#333", "tickColor": "#333", "tickSize": 3, "title": null}}}},
  {"transform": [{"filter": "datum.k == 'b'"}], "mark": {"type": "rule", "color": "#4d4d4d", "strokeWidth": 0.9},
   "encoding": {"y": {"field": "lo", "type": "quantitative", "title": null}, "y2": {"field": "hi"}, "x": {"datum": 6.85, "type": "quantitative", "title": null}}},
  {"transform": [{"filter": "datum.k == 'b'"}], "mark": {"type": "rect", "fill": "#FFFDF0", "stroke": "#555", "strokeWidth": 0.8},
   "encoding": {"y": {"field": "q1", "type": "quantitative", "title": null}, "y2": {"field": "q3"}, "x": {"datum": 2.35, "type": "quantitative", "title": null}, "x2": {"datum": 11.35}}},
  {"transform": [{"filter": "datum.k == 'b'"}], "mark": {"type": "rule", "color": "#333", "strokeWidth": 1.4},
   "encoding": {"y": {"field": "med", "type": "quantitative", "title": null}, "x": {"datum": 2.35, "type": "quantitative", "title": null}, "x2": {"datum": 11.35}}}
 ]}
]
}
]
}
